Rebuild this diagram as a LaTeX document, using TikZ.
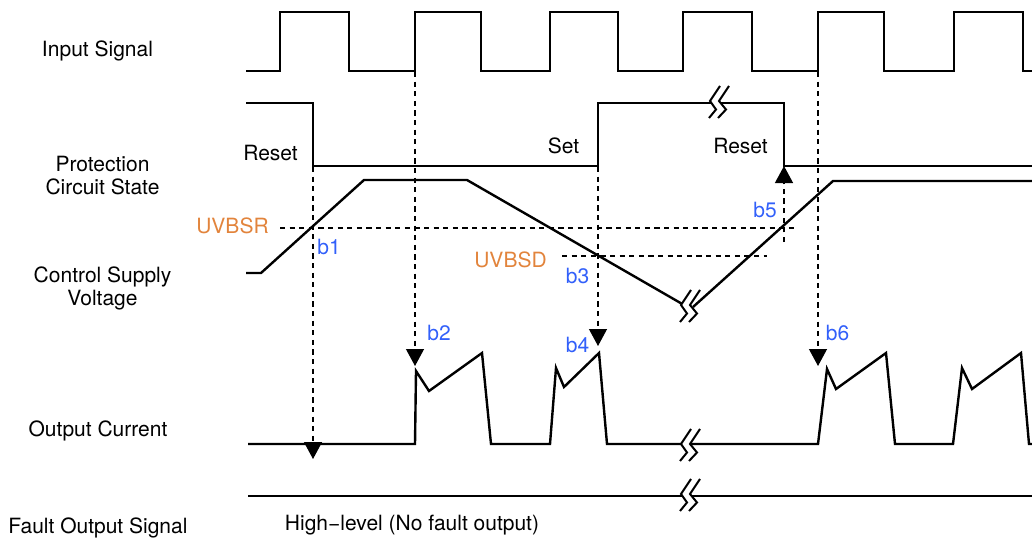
\documentclass[tikz,border=0pt]{standalone}
\usepackage{fontspec}
\setmainfont{TeX Gyre Heros}
\usetikzlibrary{arrows.meta}

\definecolor{arancio}{RGB}{226,132,60}
\definecolor{blu}{RGB}{50,96,250}

\tikzset{
	onda/.style={line width=1.2pt},
	guida/.style={line width=0.6pt,dash pattern=on 2.6pt off 2.2pt},
	freccia/.style={guida,-{Triangle[length=8.5pt,width=9pt]}},
	etich/.style={anchor=base,inner sep=0pt,font=\fontsize{10.5}{11.5}\selectfont},
	punto/.style={etich,text=blu},
	soglia/.style={etich,text=arancio},
	taglio/.pic={
		\fill[white] (3,-15) -- (-7,0) -- (-1,8.5) -- (-8,17) -- (1,17) -- (9,8.5) -- (2,0) -- (12,-15) -- cycle;
		\draw[line width=1pt] (3,-15) -- (-7,0) -- (-1,8.5) -- (-8,17);
		\draw[line width=1pt] (12,-15) -- (2,0) -- (9,8.5) -- (1,17);
	}
}

\begin{document}
\begin{tikzpicture}[x=0.5pt,y=-0.5pt]
		\useasboundingbox (0,0) rectangle (1032,540);

		% Nomi dei segnali
		\node[etich] (in) at (97.5,57) {Input Signal};
		\node[etich,align=center] (stato) at (102.5,194) {Protection\\Circuit State};
		\node[etich,align=center] (vcc) at (102.5,305) {Control Supply\\Voltage};
		\node[etich] (iout) at (98,436) {Output Current};
		\node[etich] (fo) at (98,533) {Fault Output Signal};

		% Segnale di ingresso
		\draw[onda] (246,71) \foreach \r/\f in {280/349, 415/481, 550/618, 683/752, 818/884, 954/1023} {
			-- (\r,71) -- (\r,12) -- (\f,12) -- (\f,71)} -- (1032,71);

		% Stato della protezione
		\draw[onda] (246,103) -- (313,103) -- (313,166) -- (598,166) -- (598,103)
			-- (784,103) -- (784,166) -- (1032,166);
		\pic at (717,101) {taglio};
		\node[etich] (reset1) at (270.5,160) {Reset};
		\node[etich] (set) at (563.5,153) {Set};
		\node[etich] (reset2) at (740.5,153) {Reset};

		% Tensione di alimentazione
		\draw[guida] (280,228) -- (797,228);
		\draw[guida] (562,256) -- (767,256);
		\node[soglia] (uvbsr) at (232.5,233) {UVBSR};
		\node[soglia] (uvbsd) at (510.5,267) {UVBSD};
		\draw[onda] (246,273) -- (261,273) -- (364,180) -- (467,180) -- (684,305);
		\draw[onda] (693,307) -- (833,181) -- (1032,181);
		\pic at (688,305) {taglio};

		% Corrente di uscita
		\draw[onda] (248,444) -- (415,444) -- (416,371) -- (429,391) -- (482,353) -- (491,444)
			-- (550,444) -- (556,368) -- (564,387) -- (599,353) -- (607,444)
			-- (818,444) -- (827,369) -- (836,389) -- (886,353) -- (895,444)
			-- (953,444) -- (962,368) -- (972,389) -- (1021,353) -- (1029,444) -- (1032,444);
		\pic at (688,444) {taglio};

		% Uscita di guasto
		\draw[onda] (248,496) -- (1032,496);
		\pic at (688,494) {taglio};
		\node[etich] (alto) at (412,530) {High−level (No fault output)};

		% Punti b1 ... b6
		\coordinate (b1a) at (313,167);
		\coordinate (b1b) at (313,459);
		\coordinate (b2a) at (415,72);
		\coordinate (b2b) at (415,366);
		\coordinate (b4a) at (598,167);
		\coordinate (b4b) at (598,346);
		\coordinate (b5a) at (784,242);
		\coordinate (b5b) at (784,166);
		\coordinate (b6a) at (818,72);
		\coordinate (b6b) at (818,366);
		\draw[freccia] (b1a) -- (b1b);
		\draw[freccia] (b2a) -- (b2b);
		\draw[freccia] (b4a) -- (b4b);
		\draw[freccia] (b5a) -- (b5b);
		\draw[freccia] (b6a) -- (b6b);
		\node[punto] (b1) at (329,254) {b1};
		\node[punto] (b2) at (439,340) {b2};
		\node[punto] (b3) at (577.5,283) {b3};
		\node[punto] (b4) at (577.5,352) {b4};
		\node[punto] (b5) at (765,217) {b5};
		\node[punto] (b6) at (837.5,340) {b6};
	\end{tikzpicture}
\end{document}
